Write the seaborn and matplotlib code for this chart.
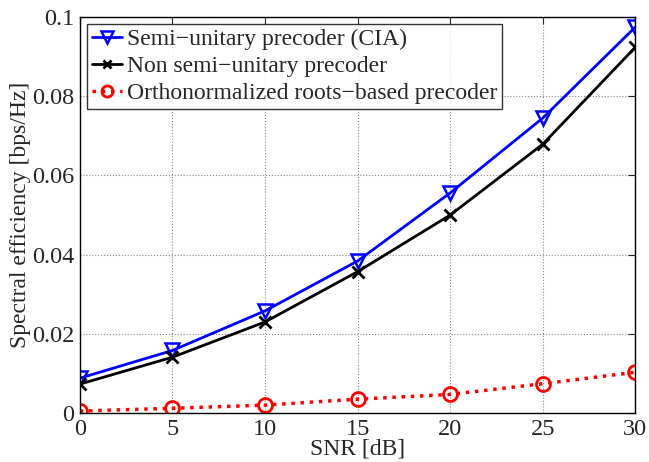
import seaborn as sns
import matplotlib.pyplot as plt
import matplotlib.ticker as mticker

snr = [0, 5, 10, 15, 20, 25, 30]
semi_unitary = [0.0088, 0.0158, 0.0258, 0.0384, 0.0556, 0.0745, 0.0975]
non_semi_unitary = [0.0073, 0.0141, 0.0230, 0.0357, 0.0500, 0.0679, 0.0924]
roots_based = [0.0005, 0.0012, 0.0020, 0.0035, 0.0047, 0.0074, 0.0103]

labels = ['Semi\u2212unitary precoder (CIA)',
          'Non semi\u2212unitary precoder',
          'Orthonormalized roots\u2212based precoder']

sns.set_style('white')
plt.rcParams['font.family'] = ['Liberation Serif', 'DejaVu Serif']

fig, ax = plt.subplots(figsize=(6.49, 4.62), dpi=100)
fig.subplots_adjust(left=0.123, right=0.979, top=0.963, bottom=0.106)

# one line per precoder
sns.lineplot(x=snr, y=semi_unitary, ax=ax, color='#0000ff', lw=2,
             marker='v', markersize=10, markerfacecolor='none',
             markeredgecolor='#0000ff', markeredgewidth=1.8, label=labels[0])
sns.lineplot(x=snr, y=non_semi_unitary, ax=ax, color='black', lw=2,
             marker='x', markersize=8, markeredgecolor='black',
             markeredgewidth=2, label=labels[1])
sns.lineplot(x=snr, y=roots_based, ax=ax, color='#ff0000', lw=2.5,
             linestyle=':', marker='o', markersize=10, markerfacecolor='none',
             markeredgecolor='#ff0000', markeredgewidth=2, label=labels[2])

ax.set_xlim(0, 30)
ax.set_ylim(0, 0.1)
ax.set_xticks(snr)
ax.set_yticks([0, 0.02, 0.04, 0.06, 0.08, 0.1])
ax.yaxis.set_major_formatter(mticker.FuncFormatter(lambda v, p: '%g' % round(v, 3)))
ax.tick_params(direction='in', top=True, right=True, labelsize=17.5, length=5,
               width=0.8, pad=4)
ax.grid(True, linestyle=':', color='#888888', lw=0.8)
for s in ax.spines.values():
    s.set_color('black')
    s.set_linewidth(1)

ax.set_xlabel('SNR [dB]', fontsize=17, labelpad=-1)
ax.set_ylabel('Spectral efficiency [bps/Hz]', fontsize=17, labelpad=1)

leg = ax.legend(loc='upper left', fontsize=17, frameon=True, fancybox=False,
                borderpad=0.2, labelspacing=0.22, handlelength=1.3,
                handletextpad=0.2, borderaxespad=0.3, markerscale=0.8)
leg.get_frame().set_edgecolor('black')
leg.get_frame().set_linewidth(1)

fig.savefig('out.png', dpi=100)
